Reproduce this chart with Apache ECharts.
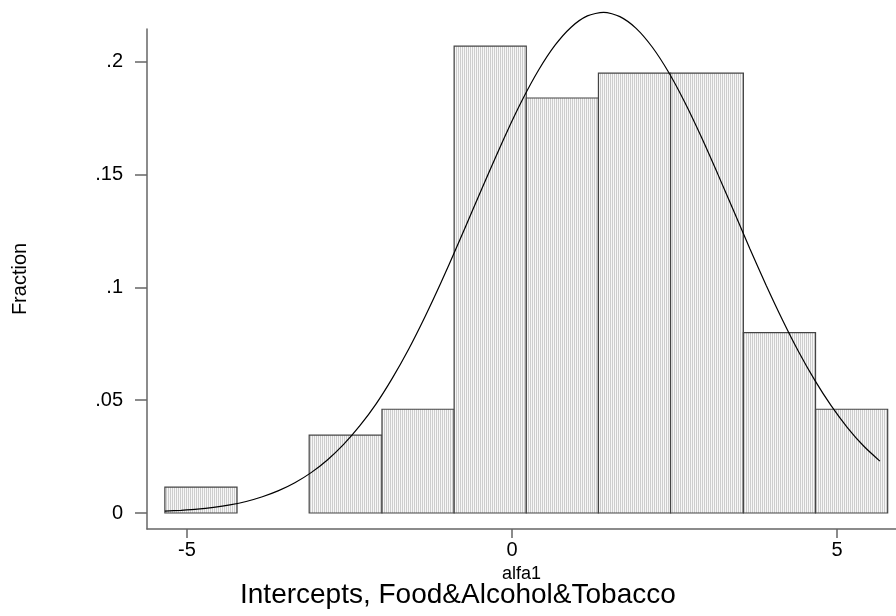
<!DOCTYPE html>
<html>
<head>
<meta charset="utf-8">
<script src="https://cdn.jsdelivr.net/npm/echarts@6/dist/echarts.min.js"></script>
<style>
html,body{margin:0;padding:0;background:#fff;}
#chart{width:896px;height:616px;}
</style>
</head>
<body>
<div id="chart"></div>
<script>
// Histogram bins (lower edge, upper edge) and fractions
var binLower = [-5.34, -4.23, -3.12, -2.00, -0.89, 0.22, 1.33, 2.44, 3.56, 4.67];
var binUpper = [-4.23, -3.12, -2.00, -0.89, 0.22, 1.33, 2.44, 3.56, 4.67, 5.78];
var fractions = [0.0115, 0, 0.0345, 0.046, 0.207, 0.184, 0.195, 0.195, 0.080, 0.046];

// Normal-density overlay
var curveX = [-5.34, -5.09, -4.84, -4.59, -4.34, -4.09, -3.84, -3.59, -3.34, -3.09, -2.84, -2.59, -2.34, -2.09, -1.84, -1.59, -1.34, -1.09, -0.84, -0.59, -0.34, -0.09, 0.16, 0.41, 0.66, 0.91, 1.16, 1.41, 1.66, 1.91, 2.16, 2.41, 2.66, 2.91, 3.16, 3.41, 3.66, 3.91, 4.16, 4.41, 4.66, 4.91, 5.16, 5.41, 5.66];
var curveY = [0.0008, 0.0012, 0.0017, 0.0025, 0.0036, 0.0051, 0.0072, 0.0099, 0.0134, 0.0179, 0.0235, 0.0304, 0.0387, 0.0484, 0.0598, 0.0726, 0.0869, 0.1023, 0.1186, 0.1353, 0.1520, 0.1682, 0.1832, 0.1964, 0.2073, 0.2154, 0.2204, 0.2220, 0.2201, 0.2149, 0.2065, 0.1954, 0.1820, 0.1669, 0.1507, 0.1340, 0.1172, 0.1010, 0.0857, 0.0715, 0.0588, 0.0476, 0.0379, 0.0297, 0.0230];

// Tick labels
var xTickValues = [-5, 0, 5];
var xTickLabels = ['-5', '0', '5'];
var yTickValues = [0, 0.05, 0.1, 0.15, 0.2];
var yTickLabels = ['0', '.05', '.1', '.15', '.2'];

var xTitle = 'alfa1';
var yTitle = 'Fraction';
var chartTitle = 'Intercepts, Food&Alcohol&Tobacco';

// striped fill pattern
var pc = document.createElement('canvas');
pc.width = 2; pc.height = 2;
var pctx = pc.getContext('2d');
pctx.fillStyle = '#f7f7f7'; pctx.fillRect(0, 0, 2, 2);
pctx.fillStyle = '#cdcdcd'; pctx.fillRect(0, 0, 1, 2);

var barData = binLower.map(function (lo, i) { return [lo, binUpper[i], fractions[i]]; })
  .filter(function (d) { return d[2] > 0; });
var curveData = curveX.map(function (x, i) { return [x, curveY[i]]; });

var chart = echarts.init(document.getElementById('chart'), null, {renderer: 'canvas'});
var font = 'Liberation Sans, Arial, sans-serif';
chart.setOption({
  animation: false,
  backgroundColor: '#fff',
  title: {
    text: chartTitle,
    left: 240, top: 581, padding: 0,
    textStyle: {fontFamily: font, fontSize: 28, fontWeight: 'normal', color: '#000'}
  },
  grid: {left: 147, right: 0, top: 29, bottom: 87, containLabel: false},
  xAxis: {
    type: 'value', min: -5.615, max: 5.908,
    name: xTitle, nameLocation: 'middle', nameGap: 27,
    nameTextStyle: {fontFamily: font, fontSize: 18, color: '#000', verticalAlign: 'top'},
    axisLine: {show: true, onZero: false, lineStyle: {color: '#666', width: 1.5}},
    axisTick: {show: true, length: 9, customValues: xTickValues, lineStyle: {color: '#666', width: 1.5}},
    axisLabel: {
      customValues: xTickValues, margin: 11,
      fontFamily: font, fontSize: 20, color: '#000',
      formatter: function (v) { var i = xTickValues.indexOf(v); return i >= 0 ? xTickLabels[i] : ''; }
    },
    splitLine: {show: false}
  },
  yAxis: {
    type: 'value', min: -0.0071, max: 0.2146,
    name: yTitle, nameLocation: 'middle', nameRotate: 90, nameGap: 117,
    nameTextStyle: {fontFamily: font, fontSize: 20, color: '#000'},
    axisLine: {show: true, onZero: false, lineStyle: {color: '#666', width: 1.5}},
    axisTick: {show: true, length: 12, customValues: yTickValues, lineStyle: {color: '#666', width: 1.5}},
    axisLabel: {
      customValues: yTickValues, margin: 24,
      fontFamily: font, fontSize: 20, color: '#000',
      formatter: function (v) {
        for (var i = 0; i < yTickValues.length; i++) { if (Math.abs(yTickValues[i] - v) < 1e-9) return yTickLabels[i]; }
        return '';
      }
    },
    splitLine: {show: false}
  },
  series: [{
    type: 'custom',
    data: barData,
    renderItem: function (params, api) {
      var p0 = api.coord([api.value(0), api.value(2)]);
      var p1 = api.coord([api.value(1), 0]);
      return {
        type: 'rect',
        shape: {x: p0[0], y: p0[1], width: p1[0] - p0[0], height: p1[1] - p0[1]},
        style: {fill: {image: pc, repeat: 'repeat'}, stroke: '#444', lineWidth: 1.2}
      };
    },
    encode: {x: [0, 1], y: 2},
    z: 2
  }, {
    type: 'line',
    data: curveData,
    smooth: 0.25,
    clip: false,
    showSymbol: false,
    lineStyle: {color: '#000', width: 1.2},
    z: 3
  }]
});
</script>
</body>
</html>
